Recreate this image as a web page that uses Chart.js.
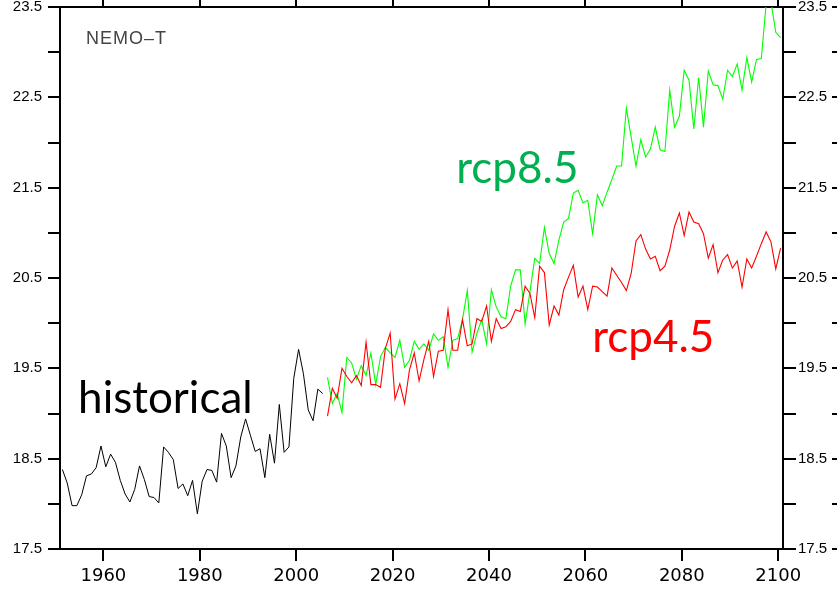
<!DOCTYPE html>
<html>
<head>
<meta charset="utf-8">
<script src="https://cdn.jsdelivr.net/npm/chart.js@4/dist/chart.umd.min.js"></script>
<style>
  html, body { margin: 0; padding: 0; background: #fff; }
  #wrap { width: 837px; height: 599px; }
</style>
</head>
<body>
<div id="wrap"><canvas id="c" width="837" height="599"></canvas></div>
<script>
// ---- data (annual means) ----
const histStart = 1951;   // historical: 1951-2005
const rcpStart = 2006;    // scenarios: 2006-2100

const historical = [
  18.38, 18.23, 17.98, 17.98, 18.10, 18.31, 18.33, 18.40, 18.64, 18.41,
  18.55, 18.46, 18.26, 18.11, 18.02, 18.16, 18.42, 18.27, 18.08, 18.07,
  18.01, 18.63, 18.57, 18.49, 18.17, 18.22, 18.09, 18.26, 17.89, 18.25,
  18.38, 18.37, 18.24, 18.78, 18.64, 18.29, 18.42, 18.74, 18.94, 18.76,
  18.58, 18.61, 18.29, 18.77, 18.45, 19.10, 18.57, 18.63, 19.39, 19.71,
  19.44, 19.04, 18.92, 19.27, 19.22
];

const rcp85 = [
  19.40, 19.11, 19.22, 19.01, 19.62, 19.56, 19.38, 19.53, 19.42, 19.67,
  19.32, 19.63, 19.73, 19.67, 19.62, 19.81, 19.51, 19.59, 19.80, 19.71,
  19.77, 19.70, 19.88, 19.81, 19.85, 19.51, 19.81, 19.83, 20.04, 20.36,
  19.68, 19.89, 20.04, 19.77, 20.37, 20.18, 20.07, 20.05, 20.41, 20.59,
  20.59, 19.99, 20.35, 20.72, 20.66, 21.06, 20.77, 20.66, 20.92, 21.12,
  21.16, 21.44, 21.47, 21.33, 21.36, 20.99, 21.42, 21.30, 21.45, 21.59,
  21.74, 21.74, 22.38, 22.06, 21.74, 22.03, 21.84, 21.93, 22.17, 21.92,
  21.90, 22.58, 22.17, 22.29, 22.80, 22.69, 22.15, 22.72, 22.17, 22.79,
  22.64, 22.63, 22.48, 22.80, 22.73, 22.87, 22.58, 22.94, 22.67, 22.92,
  22.93, 23.53, 23.56, 23.22, 23.16
];

const rcp45 = [
  18.97, 19.28, 19.17, 19.50, 19.41, 19.34, 19.42, 19.31, 19.79, 19.32,
  19.32, 19.29, 19.72, 19.89, 19.16, 19.33, 19.11, 19.48, 19.67, 19.36,
  19.60, 19.80, 19.41, 19.69, 19.70, 20.15, 19.70, 19.70, 20.04, 19.75,
  19.77, 20.05, 20.02, 20.19, 19.80, 20.05, 19.94, 19.96, 20.02, 20.15,
  20.13, 20.41, 20.33, 20.06, 20.63, 20.56, 19.98, 20.19, 20.09, 20.37,
  20.51, 20.64, 20.29, 20.41, 20.15, 20.41, 20.40, 20.35, 20.30, 20.61,
  20.53, 20.45, 20.36, 20.55, 20.91, 20.98, 20.82, 20.71, 20.74, 20.58,
  20.63, 20.81, 21.07, 21.22, 20.97, 21.23, 21.12, 21.10, 20.99, 20.72,
  20.87, 20.56, 20.70, 20.76, 20.61, 20.69, 20.40, 20.71, 20.61, 20.74,
  20.88, 21.01, 20.90, 20.60, 20.83
];

const xTickValues = [1960, 1980, 2000, 2020, 2040, 2060, 2080, 2100];
const yTickValues = [17.5, 18, 18.5, 19, 19.5, 20, 20.5, 21, 21.5, 22, 22.5, 23, 23.5];
const yTickLabels = [17.5, 18.5, 19.5, 20.5, 21.5, 22.5, 23.5];

const seriesLabels = [
  { text: 'historical', color: '#000000', x: 1954.75, y: 19.01 },
  { text: 'rcp8.5', color: '#00b050', x: 2033.2, y: 21.55 },
  { text: 'rcp4.5', color: '#ff0000', x: 2061.4, y: 19.68 }
];
const titleText = { text: 'NEMO\u2013T', x: 1956.4, y: 23.085 };

// annual means are plotted at mid-year
function toPoints(start, values) {
  return values.map((v, i) => ({ x: start + i + 0.5, y: v }));
}

const fixTicks = (vals) => (scale) => { scale.ticks = vals.map(v => ({ value: v })); };
const noPad = (s) => { s.paddingLeft = 0; s.paddingRight = 0; s.paddingTop = 0; s.paddingBottom = 0; };

const annotate = {
  id: 'annotate',
  afterDraw(chart) {
    const ctx = chart.ctx;
    const xs = chart.scales.x, ys = chart.scales.y, y2 = chart.scales.y2;
    ctx.save();
    // stray tick marks at the right edge
    ctx.strokeStyle = '#000';
    ctx.lineWidth = 2;
    yTickValues.forEach(v => {
      const py = Math.round(y2.getPixelForValue(v));
      ctx.beginPath();
      ctx.moveTo(832, py);
      ctx.lineTo(837, py);
      ctx.stroke();
    });
    // series labels
    ctx.textAlign = 'left';
    ctx.textBaseline = 'alphabetic';
    ctx.font = '44px Lato';
    seriesLabels.forEach(l => {
      ctx.fillStyle = l.color;
      ctx.fillText(l.text, xs.getPixelForValue(l.x), ys.getPixelForValue(l.y));
    });
    // title
    ctx.font = '18px "Liberation Sans"';
    ctx.fillStyle = '#444';
    try { ctx.letterSpacing = '1px'; } catch (e) {}
    ctx.fillText(titleText.text, xs.getPixelForValue(titleText.x), ys.getPixelForValue(titleText.y));
    ctx.restore();
  }
};

const axisGrid = (len) => ({
  display: true, drawOnChartArea: false, drawTicks: true,
  tickLength: len, color: '#000', lineWidth: 2
});
const axisBorder = { display: true, color: '#000', width: 2 };

new Chart(document.getElementById('c'), {
  type: 'line',
  data: {
    datasets: [
      { label: 'historical', data: toPoints(histStart, historical), borderColor: '#000000', borderWidth: 1 },
      { label: 'rcp4.5', data: toPoints(rcpStart, rcp45), borderColor: '#ff0000', borderWidth: 1.1 },
      { label: 'rcp8.5', data: toPoints(rcpStart, rcp85), borderColor: '#00ff00', borderWidth: 1.1 }
    ]
  },
  options: {
    responsive: false,
    animation: false,
    events: [],
    layout: { padding: 0 },
    elements: { point: { radius: 0 }, line: { tension: 0, fill: false } },
    plugins: { legend: { display: false }, tooltip: { enabled: false } },
    scales: {
      x: {
        type: 'linear', position: 'bottom', min: 1951, max: 2101,
        afterBuildTicks: fixTicks(xTickValues),
        afterFit: (s) => { s.height = 50; noPad(s); },
        grid: axisGrid(12), border: axisBorder,
        ticks: { color: '#000', font: { family: 'DejaVu Sans', size: 18 }, padding: 5, maxRotation: 0, autoSkip: false,
                 callback: (v) => String(v) }
      },
      x2: {
        type: 'linear', position: 'top', min: 1951, max: 2101,
        afterBuildTicks: fixTicks(xTickValues),
        afterFit: (s) => { s.height = 7; noPad(s); },
        grid: axisGrid(7), border: axisBorder,
        ticks: { display: false }
      },
      y: {
        type: 'linear', position: 'left', min: 17.5, max: 23.5,
        afterBuildTicks: fixTicks(yTickValues),
        afterFit: (s) => { s.width = 60; noPad(s); },
        grid: axisGrid(12), border: axisBorder,
        ticks: { color: '#000', font: { family: 'Liberation Sans', size: 15 }, padding: 6, autoSkip: false,
                 callback: (v) => yTickLabels.includes(v) ? v.toFixed(1) : '' }
      },
      y2: {
        type: 'linear', position: 'right', min: 17.5, max: 23.5,
        afterBuildTicks: fixTicks(yTickValues),
        afterFit: (s) => { s.width = 54; noPad(s); },
        grid: axisGrid(13), border: axisBorder,
        ticks: { color: '#000', font: { family: 'Liberation Sans', size: 15 }, padding: 2, autoSkip: false,
                 callback: (v) => yTickLabels.includes(v) ? v.toFixed(1) : '' }
      }
    }
  },
  plugins: [annotate]
});
</script>
</body>
</html>
